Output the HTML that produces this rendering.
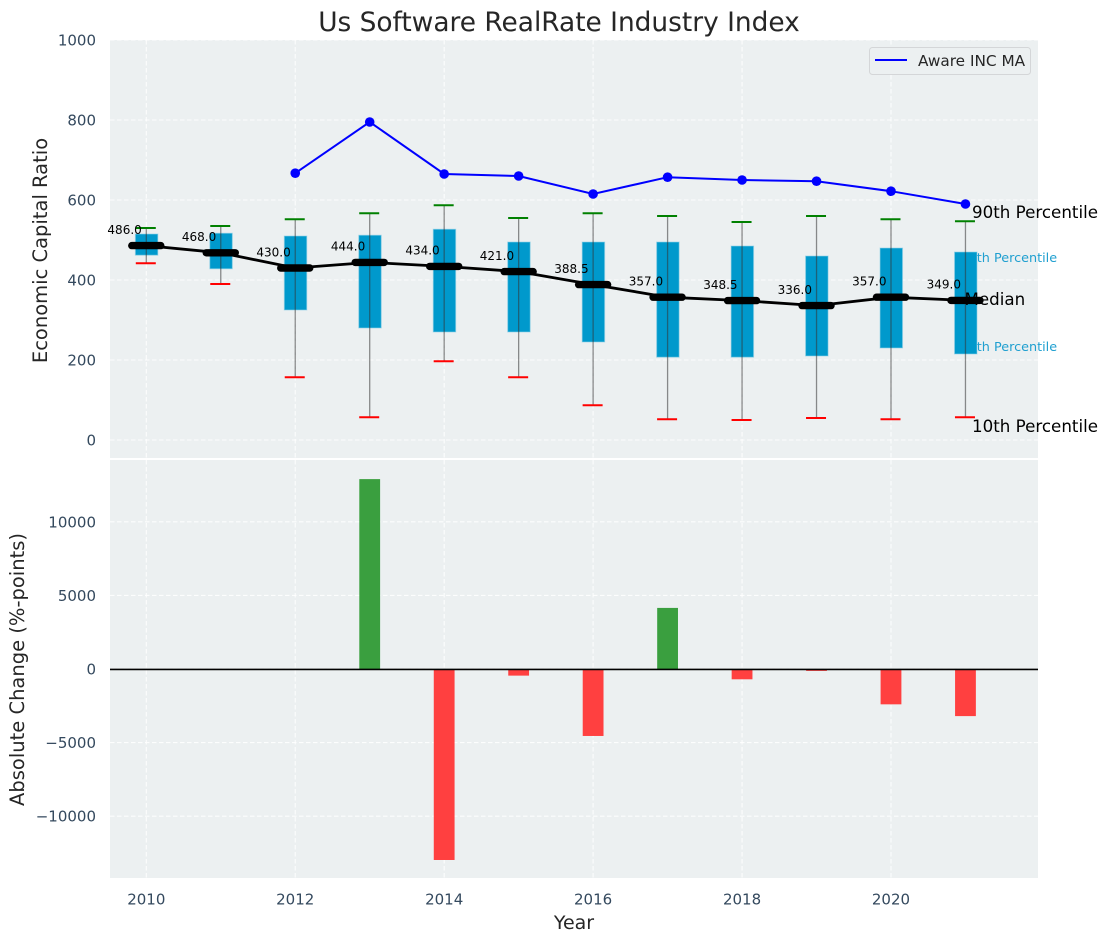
<!DOCTYPE html>
<html lang="en">
<head>
<meta charset="utf-8">
<title>Us Software RealRate Industry Index</title>
<style>
html,body{margin:0;padding:0;background:#fff;width:1107px;height:942px;overflow:hidden}
svg{display:block;font-family:"DejaVu Sans","Liberation Sans",sans-serif}
</style>
</head>
<body>
<svg id="chart" width="1107" height="942" viewBox="0 0 1107 942" xmlns="http://www.w3.org/2000/svg">
  <rect x="0" y="0" width="1107" height="942" fill="#ffffff"/>
  <rect x="110" y="40" width="928" height="418" fill="#ecf0f1"/>
  <rect x="110" y="460" width="928" height="418" fill="#ecf0f1"/>
  <g id="grid"></g>
  <g>
    <text x="972" y="218" font-size="16.7" fill="#000">90th Percentile</text>
    <text x="960.5" y="262" font-size="12.8" fill="#1f9fd0">75th Percentile</text>
    <text x="960.5" y="351" font-size="12.8" fill="#1f9fd0">25th Percentile</text>
    <text x="972" y="432" font-size="16.7" fill="#000">10th Percentile</text>
  </g>
  <g id="marks"></g>
  <text x="964.5" y="305" font-size="16.7" fill="#000">Median</text>
  <g id="ticks" font-size="15" fill="#34495e"></g>
  <text x="559" y="31" font-size="26.4" fill="#262626" text-anchor="middle">Us Software RealRate Industry Index</text>
  <text transform="translate(47 250.5) rotate(-90)" font-size="19.5" fill="#262626" text-anchor="middle">Economic Capital Ratio</text>
  <text transform="translate(24 669.5) rotate(-90)" font-size="19.5" fill="#262626" text-anchor="middle">Absolute Change (%-points)</text>
  <text x="574" y="929" font-size="19" fill="#262626" text-anchor="middle">Year</text>
  <g>
    <rect x="869.5" y="47.5" width="161" height="27" rx="3" fill="#ecf0f1" stroke="#d4d6d8" stroke-width="1"/>
    <line x1="875" y1="60" x2="907" y2="60" stroke="#0000ff" stroke-width="2"/>
    <text x="918" y="66" font-size="15.3" fill="#262626">Aware INC MA</text>
  </g>
</svg>
<script>
const years = [2010, 2011, 2012, 2013, 2014, 2015, 2016, 2017, 2018, 2019, 2020, 2021];
const p90Values = [530, 535, 552, 567, 587, 555, 567, 560, 545, 560, 552, 547];
const p75Values = [515, 517, 510, 512, 527, 495, 495, 495, 485, 460, 480, 470];
const medianValues = [486.0, 468.0, 430.0, 444.0, 434.0, 421.0, 388.5, 357.0, 348.5, 336.0, 357.0, 349.0];
const p25Values = [462, 428, 325, 280, 270, 270, 245, 207, 207, 210, 230, 215];
const p10Values = [442, 390, 157, 57, 197, 157, 87, 52, 50, 55, 52, 57];
const maYears = [2012, 2013, 2014, 2015, 2016, 2017, 2018, 2019, 2020, 2021];
const maValues = [667, 795, 665, 660, 615, 657, 650, 647, 622, 590];
const changeYears = [2013, 2014, 2015, 2016, 2017, 2018, 2019, 2020, 2021];
const changeValues = [12900, -12975, -450, -4550, 4150, -700, -130, -2400, -3200];
const xTicks = [2010, 2012, 2014, 2016, 2018, 2020];
const topYTicks = [0, 200, 400, 600, 800, 1000];
const bottomYTicks = [-10000, -5000, 0, 5000, 10000];

const NS = 'http://www.w3.org/2000/svg';
const gridLayer = document.getElementById('grid');
const marks = document.getElementById('marks');
const tickLayer = document.getElementById('ticks');

function xScale(v) { return 110 + (v - 2009.5126) * (928 / (2021.974 - 2009.5126)); }
function yTop(v) { return 440 - v * 0.4; }
function yBottom(v) { return 669 - v * (73.6 / 5000); }

function make(tag, parent, attrs, text) {
  const el = document.createElementNS(NS, tag);
  for (const k in attrs) el.setAttribute(k, attrs[k]);
  if (text !== undefined) el.textContent = text;
  parent.appendChild(el);
  return el;
}
const gridStyle = { stroke: '#ffffff', 'stroke-width': 1.1, 'stroke-dasharray': '4.5 2.5', 'stroke-opacity': 0.85 };

/* grid */
xTicks.forEach(t => {
  const a = make('line', gridLayer, Object.assign({ x1: xScale(t), x2: xScale(t), y1: 40, y2: 458 }, gridStyle));
  
  
  const b = make('line', gridLayer, Object.assign({ x1: xScale(t), x2: xScale(t), y1: 460, y2: 878 }, gridStyle));
  
  
  const lbl = make('text', tickLayer, { x: xScale(t), y: 904.5, 'text-anchor': 'middle' }, String(t));
  
  
});
topYTicks.forEach(t => {
  const a = make('line', gridLayer, Object.assign({ x1: 110, x2: 1038, y1: yTop(t), y2: yTop(t) }, gridStyle));
  
  
  const lbl = make('text', tickLayer, { x: 96, y: yTop(t) + 5.5, 'text-anchor': 'end' }, String(t));
  
  
});
bottomYTicks.forEach(t => {
  const a = make('line', gridLayer, Object.assign({ x1: 110, x2: 1038, y1: yBottom(t), y2: yBottom(t) }, gridStyle));
  
  
  const txt = t < 0 ? '\u2212' + Math.abs(t) : String(t);
  const lbl = make('text', tickLayer, { x: 96, y: yBottom(t) + 5.5, 'text-anchor': 'end' }, txt);
  
  
});

/* boxes */
years.forEach((yr, i) => {
  const cx = xScale(yr) + 0.3;
  const box = make('rect', marks, {
    x: cx - 11.25, y: yTop(p75Values[i]), width: 22.5,
    height: yTop(p25Values[i]) - yTop(p75Values[i]),
    fill: '#0099cc', stroke: '#8fd0e6', 'stroke-opacity': 0.6, 'stroke-width': 1
  });
  
  
});

/* whiskers and caps */
years.forEach((yr, i) => {
  const cx = xScale(yr);
  const w = make('line', marks, {
    x1: cx, x2: cx, y1: yTop(p90Values[i]), y2: yTop(p10Values[i]),
    stroke: '#333333', 'stroke-opacity': 0.55, 'stroke-width': 1.3
  });
  
  
  const hi = make('line', marks, {
    x1: cx - 10.5, x2: cx + 9.5, y1: yTop(p90Values[i]), y2: yTop(p90Values[i]),
    stroke: '#008000', 'stroke-width': 2
  });
  
  
  const lo = make('line', marks, {
    x1: cx - 10.5, x2: cx + 9.5, y1: yTop(p10Values[i]), y2: yTop(p10Values[i]),
    stroke: '#ff0000', 'stroke-width': 2
  });
  
  
});

/* median line and thick markers */
const medianPath = make('polyline', marks, {
  points: years.map((yr, i) => xScale(yr) + ',' + yTop(medianValues[i])).join(' '),
  fill: 'none', stroke: '#000000', 'stroke-width': 2.8
});


years.forEach((yr, i) => {
  const cx = xScale(yr);
  const my = yTop(medianValues[i]);
  const m = make('line', marks, {
    x1: cx - 14.5, x2: cx + 14.5, y1: my, y2: my,
    stroke: '#000000', 'stroke-width': 7.4, 'stroke-linecap': 'round'
  });
  
  
  const lbl = make('text', marks, {
    x: cx - 4.5, y: my - 11.7, 'text-anchor': 'end', 'font-size': 12, fill: '#000000'
  }, medianValues[i].toFixed(1));
  
  
});

/* moving average */
const maPath = make('polyline', marks, {
  points: maYears.map((yr, i) => xScale(yr) + ',' + yTop(maValues[i])).join(' '),
  fill: 'none', stroke: '#0000ff', 'stroke-width': 2
});


maYears.forEach((yr, i) => {
  const p = make('circle', marks, { cx: xScale(yr), cy: yTop(maValues[i]), r: 4.8, fill: '#0000ff' });
  
  
});

/* change bars */
changeYears.forEach((yr, i) => {
  const v = changeValues[i];
  const y0 = yBottom(0);
  const y1 = yBottom(v);
  const bar = make('rect', marks, {
    x: xScale(yr) - 10.4, width: 20.8,
    y: Math.min(y0, y1), height: Math.abs(y1 - y0),
    fill: v >= 0 ? '#3a9f3f' : '#ff4040'
  });
  
  
});
const zero = make('line', marks, {
  x1: 110, x2: 1038, y1: yBottom(0) + 0.4, y2: yBottom(0) + 0.4, stroke: '#000000', 'stroke-width': 1.6
});


</script>
</body>
</html>
